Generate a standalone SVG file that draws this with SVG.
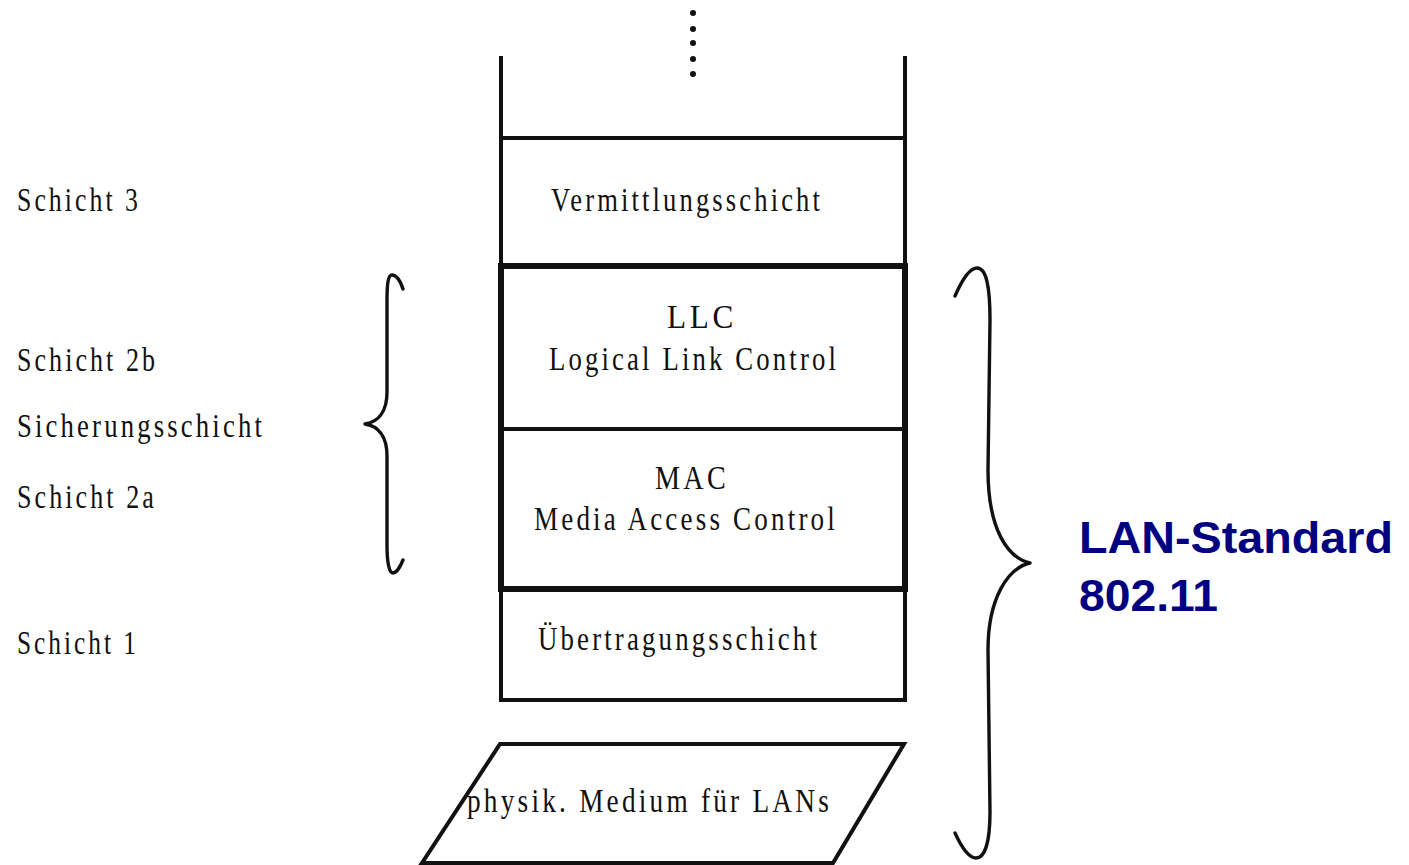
<svg xmlns="http://www.w3.org/2000/svg" width="1409" height="865" viewBox="0 0 1409 865">
  <style>
    .lbl { font-family: "Liberation Serif", "Times New Roman", serif; font-size: 34px; fill: #111; letter-spacing: 4px; }
    .std { font-family: "Liberation Sans", Arial, sans-serif; font-size: 44px; font-weight: bold; fill: #000080; }
    .ln { stroke: #111; stroke-width: 4; fill: none; stroke-linecap: square; }
    .thick { stroke: #111; stroke-width: 6; fill: none; }
    .brace { stroke: #111; stroke-width: 3.4; fill: none; stroke-linecap: round; stroke-linejoin: round; }
  </style>
  <rect width="1409" height="865" fill="#fff"/>

  <!-- layer labels on the left -->
  <g id="layer-labels">
    <text class="lbl" x="17" y="211" textLength="124" lengthAdjust="spacingAndGlyphs">Schicht 3</text>
    <text class="lbl" x="17" y="371" textLength="141" lengthAdjust="spacingAndGlyphs">Schicht 2b</text>
    <text class="lbl" x="17" y="437" textLength="248" lengthAdjust="spacingAndGlyphs">Sicherungsschicht</text>
    <text class="lbl" x="17" y="508" textLength="140" lengthAdjust="spacingAndGlyphs">Schicht 2a</text>
    <text class="lbl" x="17" y="654" textLength="122" lengthAdjust="spacingAndGlyphs">Schicht 1</text>
  </g>

  <!-- open top of the stack with continuation dots -->
  <g id="upper-layers">
    <g fill="#111">
      <circle cx="693" cy="13" r="3"/>
      <circle cx="693" cy="29" r="3"/>
      <circle cx="693" cy="43" r="3"/>
      <circle cx="693" cy="59" r="3"/>
      <circle cx="693" cy="74" r="3"/>
    </g>
    <path class="ln" d="M501 58 V266 M905 58 V266"/>
  </g>

  <g id="vermittlungsschicht">
    <path class="ln" d="M501 138 H905"/>
    <text class="lbl" x="551" y="211" textLength="272" lengthAdjust="spacingAndGlyphs">Vermittlungsschicht</text>
  </g>

  <!-- data link layer: LLC + MAC inside a heavy frame -->
  <g id="sicherungsschicht">
    <rect class="thick" x="501" y="266" width="404" height="323"/>
    <path class="ln" d="M501 429 H905"/>
  </g>

  <g id="llc">
    <text class="lbl" x="667" y="328" textLength="70" lengthAdjust="spacingAndGlyphs">LLC</text>
    <text class="lbl" x="549" y="370" textLength="290" lengthAdjust="spacingAndGlyphs">Logical Link Control</text>
  </g>

  <g id="mac">
    <text class="lbl" x="655" y="489" textLength="74" lengthAdjust="spacingAndGlyphs">MAC</text>
    <text class="lbl" x="534" y="530" textLength="304" lengthAdjust="spacingAndGlyphs">Media Access Control</text>
  </g>

  <g id="uebertragungsschicht">
    <path class="ln" d="M501 589 V700 H905 V589"/>
    <text class="lbl" x="538" y="650" textLength="282" lengthAdjust="spacingAndGlyphs">Übertragungsschicht</text>
  </g>

  <g id="medium">
    <polygon class="ln" points="500,744 904,744 833,863 422,863" stroke-linejoin="miter"/>
    <text class="lbl" x="467" y="812" textLength="365" lengthAdjust="spacingAndGlyphs">physik. Medium für LANs</text>
  </g>

  <!-- braces -->
  <g id="braces">
    <path class="brace" d="M403 289 C400 280 396 275 392 275 C388 275 387 285 387 300 L387 392 C387 412 378 422 365 424 C378 426 387 436 387 456 L387 545 C387 562 389 573 393 573 C397 573 400 567 403 560"/>
    <path class="brace" d="M955 296 C962 280 970 268 977 268 C986 268 990 285 990 320 L988 470 C988 530 1008 558 1030 563 C1008 568 988 598 988 650 L990 812 C990 845 984 858 976 858 C968 858 961 846 955 833"/>
  </g>

  <g id="lan-standard">
    <text class="std" x="1079" y="553" textLength="314" lengthAdjust="spacingAndGlyphs">LAN-Standard</text>
    <text class="std" x="1079" y="611" textLength="139" lengthAdjust="spacingAndGlyphs">802.11</text>
  </g>
</svg>
